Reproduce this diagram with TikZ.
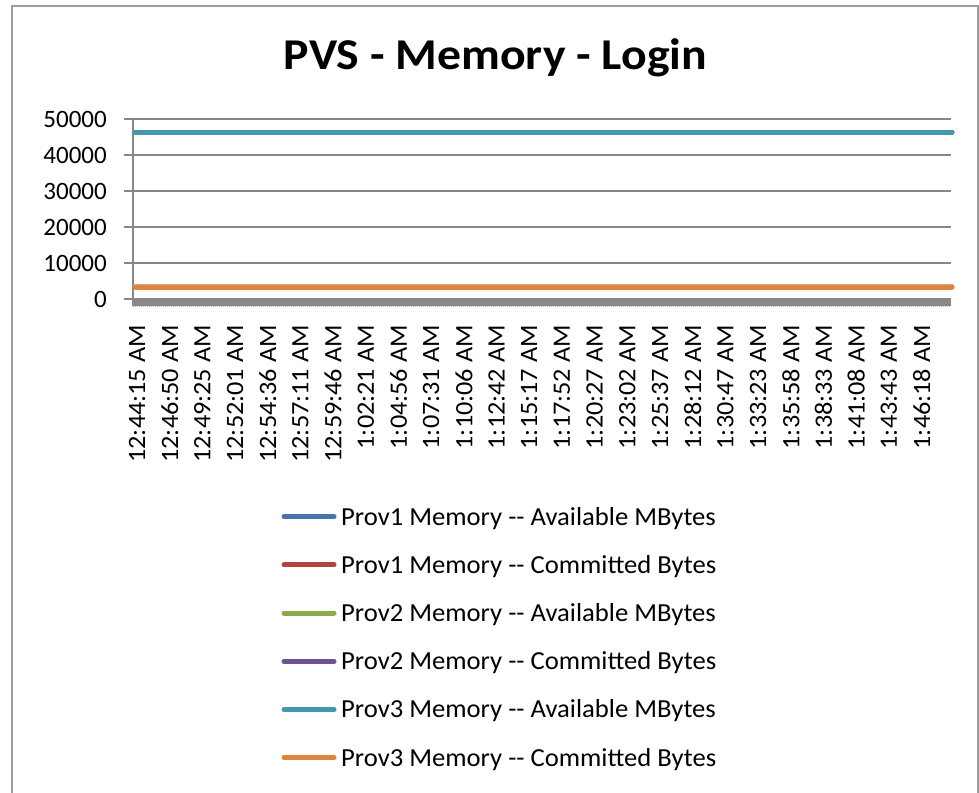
\documentclass[tikz,border=0pt]{standalone}
\usepackage{fontspec}
\setmainfont{Carlito}
\definecolor{frameGray}{HTML}{9E9E9E}
\definecolor{gridGray}{HTML}{878787}
\definecolor{bandGray}{HTML}{888888}
\definecolor{sBlue}{HTML}{4674AC}
\definecolor{sRed}{HTML}{B2433F}
\definecolor{sGreen}{HTML}{8BAA4C}
\definecolor{sPurple}{HTML}{6F5291}
\definecolor{sTeal}{HTML}{4398B0}
\definecolor{sOrange}{HTML}{E1843A}
\begin{document}
\begin{tikzpicture}[x=1pt,y=-1pt,
  frame/.style={draw=frameGray,line width=2pt},
  grid/.style={draw=gridGray,line width=1.5pt},
  series/.style={line width=5pt,line cap=round},
  ylab/.style={anchor=east,inner sep=0pt,font=\fontsize{25}{25}\selectfont},
  xlab/.style={anchor=east,rotate=90,inner sep=0pt,font=\fontsize{25}{25}\selectfont},
  legtext/.style={anchor=base west,inner sep=0pt,font=\fontsize{26}{26}\selectfont},
  charttitle/.style={anchor=base,inner sep=0pt,font=\fontsize{44}{44}\selectfont\bfseries}]
\useasboundingbox (0,0) rectangle (979,792);
\fill[white] (0,0) rectangle (979,792);
% chart frame (open at the bottom)
\draw[frame] (12,6) rectangle (978,820);

% title
\node[charttitle] (title) at (495.5,69.3) {\scalebox{1.085}[1]{PVS - Memory - Login}};

% horizontal gridlines and value ticks
\foreach \v/\lab in {0/0,1/10000,2/20000,3/30000,4/40000,5/50000}{
  \draw[grid] (133,{299-36*\v}) -- (951,{299-36*\v});
  \draw[grid] (124,{299-36*\v}) -- (133,{299-36*\v});
  \node[ylab] (yl\v) at (107,{299-36*\v}) {\lab};
}
% value axis
\draw[grid] (133,119) -- (133,306);
% dense category ticks along the time axis
\fill[bandGray] (133,298) rectangle (951,306);
\draw[gridGray!60,line width=1pt,dash pattern=on 1pt off 1pt] (133,306.5) -- (951,306.5);

% data series (flat over the whole run)
\draw[series,sBlue] (135.5,132) -- (952,132);
\draw[series,sTeal] (135.5,132) -- (952,132);
\draw[series,sRed!50] (135.5,286) -- (952,286);
\draw[series,sOrange] (135.5,287) -- (952,287);

% time labels
\foreach \t [count=\i from 0] in {12:44:15 AM,12:46:50 AM,12:49:25 AM,12:52:01 AM,
  12:54:36 AM,12:57:11 AM,12:59:46 AM,1:02:21 AM,1:04:56 AM,1:07:31 AM,1:10:06 AM,
  1:12:42 AM,1:15:17 AM,1:17:52 AM,1:20:27 AM,1:23:02 AM,1:25:37 AM,1:28:12 AM,
  1:30:47 AM,1:33:23 AM,1:35:58 AM,1:38:33 AM,1:41:08 AM,1:43:43 AM,1:46:18 AM}{
  \node[xlab] (xl\i) at ({137+32.69*\i},325) {\scalebox{1.05}[1]{\t}};
}

% legend
\foreach \c/\txt [count=\i from 0] in {
  sBlue/Prov1 Memory -{}- Available MBytes,
  sRed/Prov1 Memory -{}- Committed Bytes,
  sGreen/Prov2 Memory -{}- Available MBytes,
  sPurple/Prov2 Memory -{}- Committed Bytes,
  sTeal/Prov3 Memory -{}- Available MBytes,
  sOrange/Prov3 Memory -{}- Committed Bytes}{
  \coordinate (ka\i) at (284,{516.7+48.2*\i});
  \coordinate (kb\i) at (334,{516.7+48.2*\i});
  \draw[series,\c] (ka\i) -- (kb\i);
  \node[legtext] (lg\i) at (341,{525+48.2*\i}) {\scalebox{1.025}[1]{\txt}};
}
\end{tikzpicture}
\end{document}
